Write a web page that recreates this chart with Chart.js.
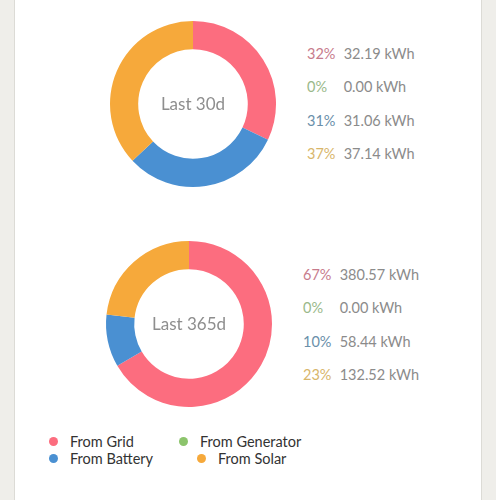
<!DOCTYPE html>
<html>
<head>
<meta charset="utf-8">
<script src="https://cdn.jsdelivr.net/npm/chart.js@4/dist/chart.umd.min.js"></script>
<style>
  html, body { margin: 0; padding: 0; }
  body { width: 496px; height: 500px; background: #efeeea; position: relative; overflow: hidden; font-family: Lato, "Open Sans", sans-serif; }
  .card { position: absolute; left: 14px; top: -2px; width: 466px; height: 510px; background: #fff; border-left: 1px solid #dcdbd6; border-right: 1px solid #dcdbd6; }
  .donut { position: absolute; width: 180px; height: 180px; }
  .rows { position: absolute; font-size: 14.5px; color: #8b8b8b; }
  .rows div { height: 33.3px; line-height: 20px; white-space: nowrap; }
  .rows .pct { display: inline-block; width: 33px; }
  .legend { position: absolute; left: 49px; top: 433px; font-size: 14.5px; color: #333; }
  .legend span { position: absolute; white-space: nowrap; line-height: 17px; }
  .legend i { display: inline-block; width: 9px; height: 9px; border-radius: 50%; margin-right: 12px; vertical-align: 1px; }
</style>
</head>
<body>
<div class="card"></div>
<div class="donut" style="left:103px;top:14px"><canvas id="chart-1"></canvas></div>
<div class="donut" style="left:99px;top:234px"><canvas id="chart-2"></canvas></div>
<div class="rows" id="rows-1" style="left:307px;top:44px"></div>
<div class="rows" id="rows-2" style="left:303px;top:265px"></div>
<div class="legend" id="legend"></div>
<script>
var labels = ["From Grid", "From Generator", "From Battery", "From Solar"];
var colors = ["#fc6d7f", "#8cc46c", "#4a90d2", "#f6a93b"];
var textColors = ["#c77b8c", "#9ab98a", "#6a8faa", "#d8b66a"];
var last30 = [32.19, 0.00, 31.06, 37.14];
var last365 = [380.57, 0.00, 58.44, 132.52];

var centerText = {
  id: "centerText",
  afterDraw: function(chart) {
    var ctx = chart.ctx;
    var a = chart.chartArea;
    ctx.save();
    ctx.font = "17px Lato, 'Open Sans', sans-serif";
    ctx.fillStyle = "#8e8e8e";
    ctx.textAlign = "center";
    ctx.textBaseline = "middle";
    ctx.fillText(chart.options.plugins.centerText.text, (a.left + a.right) / 2, (a.top + a.bottom) / 2 + 1);
    ctx.restore();
  }
};

function makeDonut(id, values, title) {
  return new Chart(document.getElementById(id), {
    type: "doughnut",
    data: {
      labels: labels,
      datasets: [{
        data: values,
        backgroundColor: colors,
        borderWidth: 0
      }]
    },
    options: {
      responsive: true,
      maintainAspectRatio: false,
      animation: false,
      cutout: "66%",
      layout: { padding: 7 },
      plugins: {
        legend: { display: false },
        tooltip: { enabled: false },
        centerText: { text: title }
      }
    },
    plugins: [centerText]
  });
}

function makeRows(id, values) {
  var total = values.reduce(function(s, v) { return s + v; }, 0);
  var el = document.getElementById(id);
  values.forEach(function(v, i) {
    var row = document.createElement("div");
    row.innerHTML = '<span class="pct" style="color:' + textColors[i] + '">' +
      Math.round(v / total * 100) + '%</span> ' + v.toFixed(2) + ' kWh';
    el.appendChild(row);
  });
}

var myChart1 = makeDonut("chart-1", last30, "Last 30d");
var myChart2 = makeDonut("chart-2", last365, "Last 365d");
makeRows("rows-1", last30);
makeRows("rows-2", last365);

// legend, two columns
var legendPos = [[0, 0], [130, 0], [0, 17], [148, 17]];
var legend = document.getElementById("legend");
labels.forEach(function(l, i) {
  var s = document.createElement("span");
  s.style.left = legendPos[i][0] + "px";
  s.style.top = legendPos[i][1] + "px";
  s.innerHTML = '<i style="background:' + colors[i] + '"></i>' + l;
  legend.appendChild(s);
});
</script>
</body>
</html>
